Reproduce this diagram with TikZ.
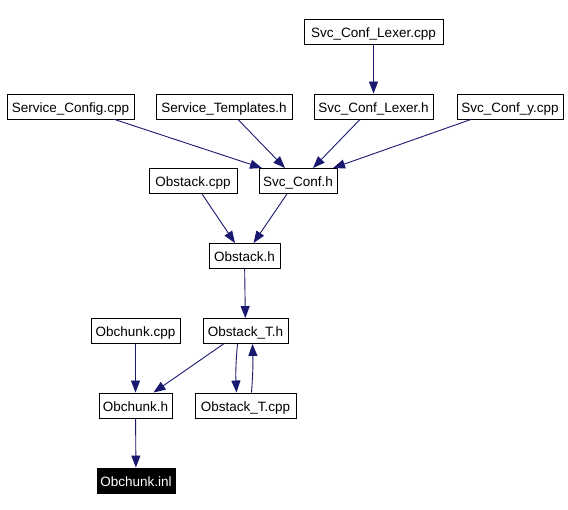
\documentclass[tikz,border=0pt]{standalone}
\usepackage{fontspec}
\setmainfont{Liberation Sans}
\usetikzlibrary{arrows.meta}
\definecolor{edgeblue}{RGB}{25,25,112}
\begin{document}
\begin{tikzpicture}[x=1pt,y=-1pt,
  file/.style={draw=black,line width=0.9pt,fill=white,minimum height=25pt,inner sep=0pt,text height=14pt,text depth=2pt,font=\fontsize{13.5}{16}\selectfont,anchor=center},
  cur/.style={file,fill=black,text=white},
  dep/.style={draw=edgeblue,line width=0.9pt,-{Triangle[length=12pt,width=9pt]}}]
\useasboundingbox[fill=white] (0,0) rectangle (568,510);
\node[file,minimum width=139pt] (lexcpp) at (373.5,31.5) {Svc\_Conf\_Lexer.cpp};
\node[file,minimum width=127pt] (svccfg) at (70.5,106.5) {Service\_Config.cpp};
\node[file,minimum width=136pt] (svctpl) at (224,106.5) {Service\_Templates.h};
\node[file,minimum width=119pt] (lexh) at (373.5,106.5) {Svc\_Conf\_Lexer.h};
\node[file,minimum width=106pt] (yconf) at (510,106.5) {Svc\_Conf\_y.cpp};
\node[file,minimum width=88pt] (obcpp) at (193,181) {Obstack.cpp};
\node[file,minimum width=78pt] (svcconf) at (298,181) {Svc\_Conf.h};
\node[file,minimum width=71pt] (obh) at (244.5,256) {Obstack.h};
\node[file,minimum width=89pt] (obchcpp) at (135.5,331) {Obchunk.cpp};
\node[file,minimum width=85pt] (obsTh) at (245.5,331) {Obstack\_T.h};
\node[file,minimum width=73pt] (obchh) at (135.5,405.5) {Obchunk.h};
\node[file,minimum width=101pt] (obsTcpp) at (245.5,405.5) {Obstack\_T.cpp};
\node[cur,minimum width=78pt] (obchinl) at (136,480.5) {Obchunk.inl};

\draw[dep] (lexcpp) -- (lexh);
\draw[dep] ([xshift=44pt]svccfg.south) -- ([xshift=-36pt]svcconf.north);
\draw[dep] ([xshift=14pt]svctpl.south) -- ([xshift=-13pt]svcconf.north);
\draw[dep] ([xshift=-13.5pt]lexh.south) -- ([xshift=15pt]svcconf.north);
\draw[dep] ([xshift=-39pt]yconf.south) -- ([xshift=35pt]svcconf.north);
\draw[dep] ([xshift=9pt]obcpp.south) -- ([xshift=-9.5pt]obh.north);
\draw[dep] ([xshift=-11pt]svcconf.south) -- ([xshift=9pt]obh.north);
\draw[dep] (obh) -- (obsTh);
\draw[dep] (obchcpp) -- (obchh);
\draw[dep] ([xshift=-22pt]obsTh.south) -- ([xshift=18pt]obchh.north);
\draw[dep] ([xshift=-8pt]obsTh.south) to[bend right=4] ([xshift=-9pt]obsTcpp.north);
\draw[dep] ([xshift=6pt]obsTcpp.north) to[bend right=3] ([xshift=7pt]obsTh.south);
\draw[dep] (obchh) -- (obchinl);
\end{tikzpicture}
\end{document}
